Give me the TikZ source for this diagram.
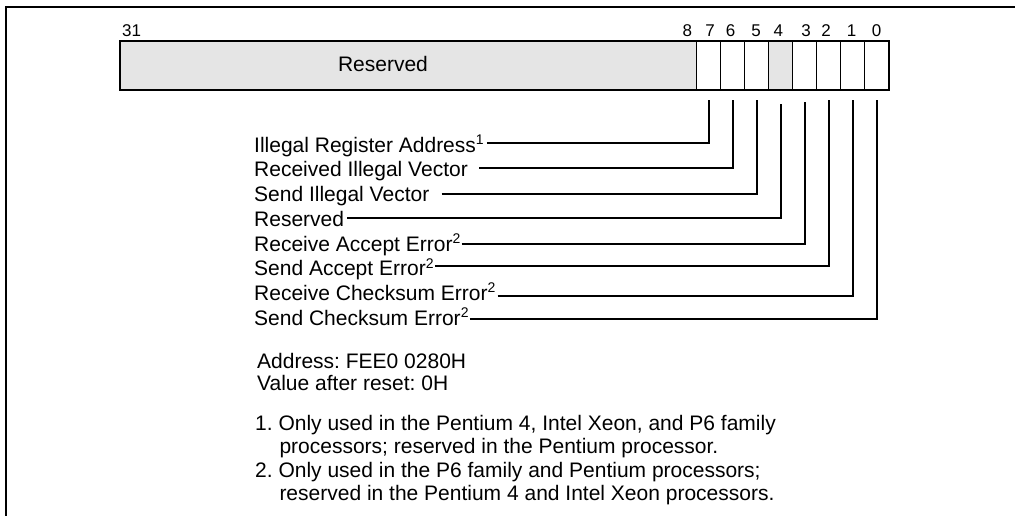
\documentclass[tikz,border=0pt]{standalone}
\usepackage{fontspec}
\setmainfont{Liberation Sans}
\usetikzlibrary{calc}
\frenchspacing
\newcommand\fnmark[1]{\raisebox{7.5pt}{\fontsize{14}{14}\selectfont #1}}
\begin{document}
\begin{tikzpicture}[x=1pt,y=-1pt,
  lbl/.style={inner sep=0pt, anchor=base west, font=\fontsize{21}{25}\selectfont\frenchspacing},
  num/.style={inner sep=0pt, anchor=base, font=\fontsize{17}{20}\selectfont},
  cell/.style={draw, line width=1pt, inner sep=0pt, minimum height=47.3pt},
  shaded/.style={fill=black!10},
  conn/.style={line width=2pt},
  frame/.style={line width=2pt},
]
\useasboundingbox (0,0) rectangle (1015,516);
% outer frame (cropped at right and bottom)
\draw[frame] (5.7,520) -- (5.7,6.7) -- (1020,6.7);

% register fields
\node[cell, shaded, minimum width=576pt] (res) at (408.7,65.65) {};
\foreach \i/\x in {7/708.7,6/732.7,5/756.7,3/804.7,2/828.7,1/852.7,0/876.7}
  \node[cell, minimum width=24pt] (b\i) at (\x,65.65) {};
\node[cell, shaded, minimum width=24pt] (b4) at (780.7,65.65) {};
\draw[line width=2pt] (res.north west) rectangle (b0.south east);
\node[lbl, anchor=base] (rtext) at (383,71.7) {Reserved};

% bit numbers
\node[num, anchor=base west] (n31) at (122,36.7) {31};
\foreach \t/\x in {8/687.3,7/710,6/730.7,5/756,4/778.3,3/806,2/826,1/851.7,0/876.7}
  \node[num] (n\t) at (\x,36.7) {\t};

% connector top ends below each bit
\foreach \i/\d in {7/10,6/10,5/10,4/14,3/12.4,2/10,1/10.7,0/10.7}
  \coordinate (t\i) at ($(b\i.south)+(0,\d)$);

% labels
\node[lbl] (l7) at (254,152.3) {Illegal Register Address\fnmark{1}};
\node[lbl] (l6) at (254,177) {Received Illegal Vector};
\node[lbl] (l5) at (254,201.6) {Send Illegal Vector};
\node[lbl] (l4) at (254,226.3) {Reserved};
\node[lbl] (l3) at (254,251) {Receive Accept Error\fnmark{2}};
\node[lbl] (l2) at (254,275.7) {Send Accept Error\fnmark{2}};
\node[lbl] (l1) at (254,300.3) {Receive Checksum Error\fnmark{2}};
\node[lbl] (l0) at (254,325) {Send Checksum Error\fnmark{2}};

% connectors
\draw[conn] ([xshift=3pt,yshift=9pt]l7.base east) -| (t7);
\draw[conn] ([xshift=11pt,yshift=8.9pt]l6.base east) -| (t6);
\draw[conn] ([xshift=12pt,yshift=7.3pt]l5.base east) -| (t5);
\draw[conn] ([xshift=3pt,yshift=8.6pt]l4.base east) -| (t4);
\draw[conn] ([xshift=1pt,yshift=6.7pt]l3.base east) -| (t3);
\draw[conn] ([xshift=1pt,yshift=9.7pt]l2.base east) -| (t2);
\draw[conn] ([xshift=2pt,yshift=4.6pt]l1.base east) -| (t1);
\draw[conn] ([xshift=1pt,yshift=5.7pt]l0.base east) -| (t0);

% notes
\node[lbl] (addr) at (257,368.3) {Address: FEE0 0280H};
\node[lbl] (val) at (257,390.7) {Value after reset: 0H};
\node[lbl] (f1a) at (255,430) {1. Only used in the Pentium 4, Intel Xeon, and P6 family};
\node[lbl] (f1b) at (279.3,453.5) {processors; reserved in the Pentium processor.};
\node[lbl] (f2a) at (255,477) {2. Only used in the P6 family and Pentium processors;};
\node[lbl] (f2b) at (279.3,500.5) {reserved in the Pentium 4 and Intel Xeon processors.};
\end{tikzpicture}
\end{document}
